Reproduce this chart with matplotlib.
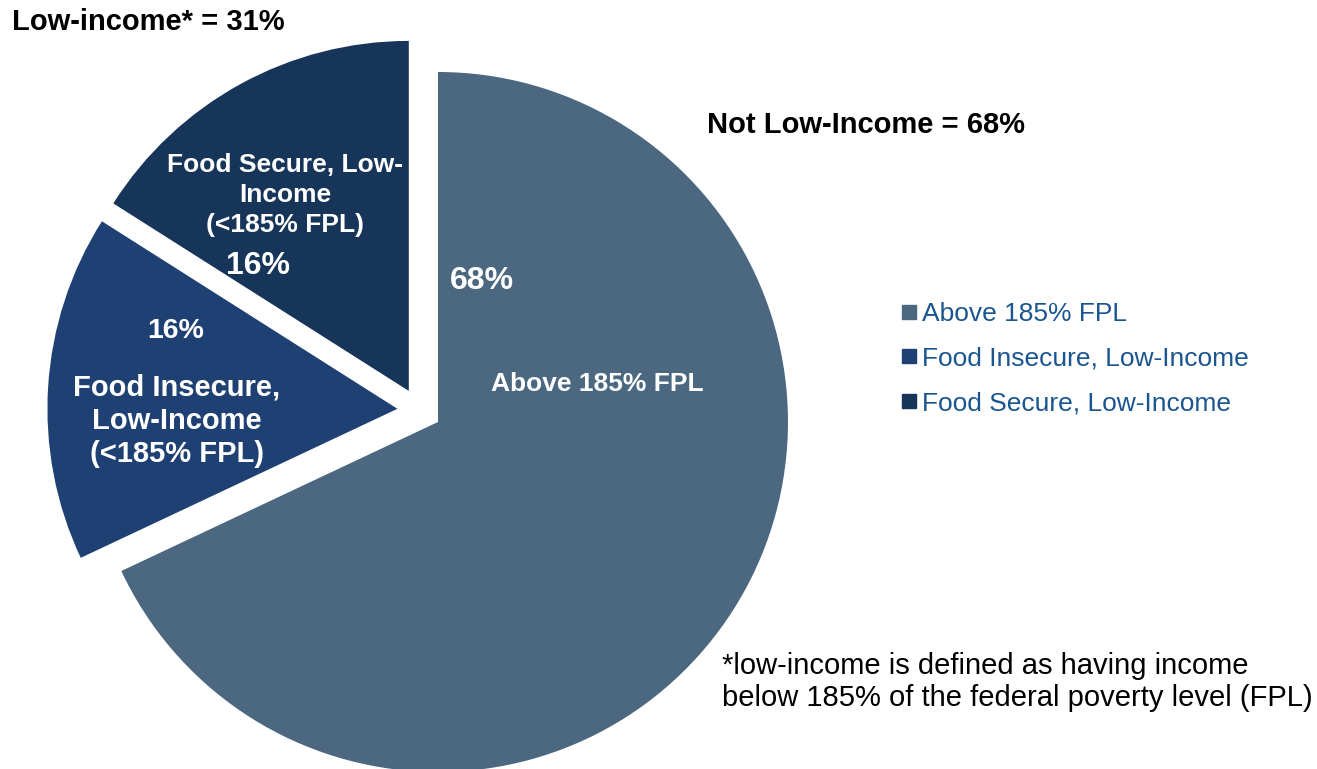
import matplotlib
matplotlib.use("Agg")
import matplotlib.pyplot as plt
from matplotlib.lines import Line2D

plt.rcParams['font.family'] = ['Liberation Sans', 'DejaVu Sans']

categories = ["Above 185% FPL", "Food Insecure, Low-Income", "Food Secure, Low-Income"]
values = [68, 16, 16]
colors = ["#4B6880", "#1F4072", "#173459"]
legend_color = "#1B5590"

W, H = 1317, 769
fig = plt.figure(figsize=(W / 100, H / 100), dpi=100)
ax = fig.add_axes([0, 0, 1, 1])

cx, cy, R = 419.4, H - 410.2, 350
wedges, _ = ax.pie(values, colors=colors, startangle=90, counterclock=False,
                   explode=[22, 22, 22], radius=R, center=(cx, cy), frame=True)
ax.set_xlim(0, W)
ax.set_ylim(0, H)
ax.set_aspect('equal')
ax.axis('off')

def T(x, y, s, size, color="white", ha="center", ls=1.0, weight="bold"):
    ax.text(x, H - y, s, fontsize=size, color=color, ha=ha, va="center",
            fontweight=weight, linespacing=ls, multialignment="center" if ha == "center" else "left")

# slice labels
T(482, 281, f"{values[0]}%", 23)
T(597, 384, "Above 185% FPL", 19)
T(176, 331, f"{values[1]}%", 20.5)
T(177, 421, "Food Insecure,\nLow-Income\n(<185% FPL)", 21, ls=1.25)
T(258, 266, f"{values[2]}%", 23)
T(285, 195, "Food Secure, Low-\nIncome\n(<185% FPL)", 19, ls=1.3)

# headers
T(12, 22, "Low-income* = 31%", 21, color="black", ha="left")
T(707, 125, "Not Low-Income = 68%", 21, color="black", ha="left")

# footnote
ax.text(722, H - 682, "*low-income is defined as having income\nbelow 185% of the federal poverty level (FPL)",
        fontsize=21, color="black", ha="left", va="center", linespacing=1.2)

handles = [Line2D([], [], marker='s', linestyle='none', markersize=9.5,
                  markerfacecolor=c, markeredgecolor=c) for c in colors]
leg = ax.legend(handles, categories, loc="upper left",
                bbox_to_anchor=(902 / W, 1 - 302 / H), frameon=False,
                fontsize=19, labelcolor=legend_color, handlelength=0.5,
                handletextpad=0.25, labelspacing=0.78, borderpad=0, borderaxespad=0)

fig.savefig("out.png", dpi=100)
